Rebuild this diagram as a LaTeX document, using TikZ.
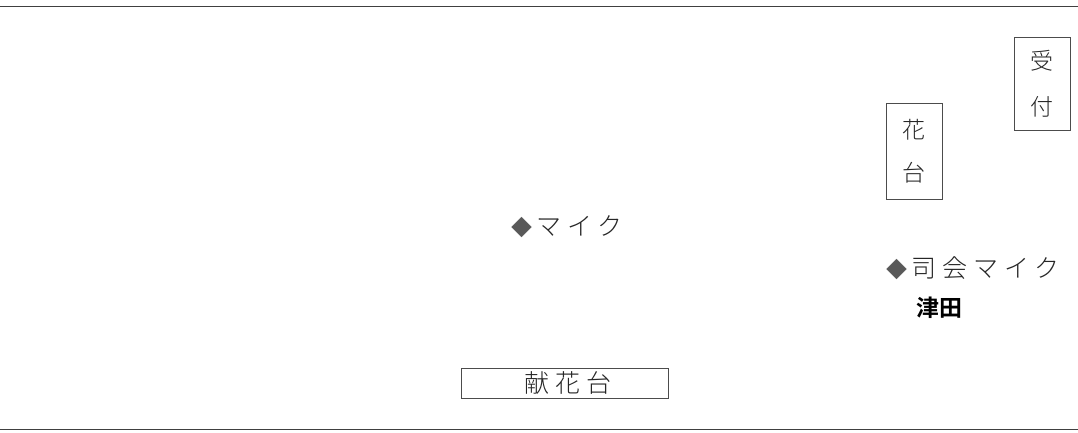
\documentclass[tikz,border=0pt]{standalone}
\usepackage{fontspec}
\newfontfamily\jp{Noto Sans CJK JP Light}[LetterSpace=24]
\newfontfamily\jpv{Noto Sans CJK JP Light}
\newfontfamily\jpb{Noto Sans CJK JP Bold}
\newcommand{\dia}{{\color{black!65}\fontsize{21}{23}\selectfont◆}\hspace{4pt}}
\begin{document}
\begin{tikzpicture}[x=1pt,y=-1pt,
  lbl/.style={font=\jp\fontsize{25}{27}\selectfont, text=black!85, inner sep=0pt},
  vlbl/.style={font=\jpv\fontsize{23}{25}\selectfont, text=black!85, inner sep=0pt},
  frame/.style={draw=black!70, line width=0.8pt},
  rule/.style={draw=black!75, line width=1pt}]
\useasboundingbox (0,0) rectangle (1078,433);
\coordinate (tl) at (0,7);
\coordinate (tr) at (1078,7);
\coordinate (bl) at (0,429);
\coordinate (br) at (1078,429);
\draw[rule] (tl) -- (tr);
\draw[rule] (bl) -- (br);
% 受付
\node[frame, minimum width=56pt, minimum height=93pt, inner sep=0pt] (uketsuke) at (1042,84) {};
\node[vlbl] (uke) at (1042,61) {受};
\node[vlbl] (tsuke) at (1042,107) {付};
% 花台
\node[frame, minimum width=56pt, minimum height=96pt, inner sep=0pt] (kadai) at (914,151) {};
\node[vlbl] (ka) at (914,130) {花};
\node[vlbl] (dai) at (914,173) {台};
% マイク
\node[lbl, anchor=west] (mic) at (511,227) {\dia マイク};
% 司会マイク
\node[lbl, anchor=west] (shikai) at (886,268) {\dia 司会マイク};
\node[anchor=west, inner sep=0pt, font=\jpb\fontsize{23}{25}\selectfont, text=black] (tsuda) at (916,308) {津田};
% 献花台
\node[frame, minimum width=207pt, minimum height=30pt, inner sep=0pt] (kenkadai) at (565,383) {};
\node[lbl] (kenka) at (568,383) {献花台};
\end{tikzpicture}
\end{document}
